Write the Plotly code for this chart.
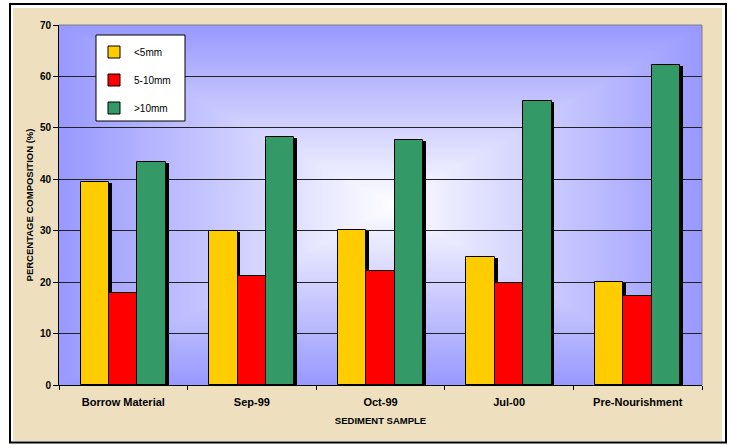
import base64
import struct
import zlib

import numpy as np
import plotly.graph_objects as go

# ---------------- data ----------------
categories = ["Borrow Material", "Sep-99", "Oct-99", "Jul-00", "Pre-Nourishment"]
small = [39.4, 30.0, 30.2, 24.8, 20.1]      # <5mm
medium = [17.8, 21.2, 22.1, 19.9, 17.3]     # 5-10mm
large = [43.4, 48.3, 47.6, 55.3, 62.3]      # >10mm
series_names = ["<5mm", "5-10mm", ">10mm"]
y_ticks = [0, 10, 20, 30, 40, 50, 60, 70]

# ---------------- layout constants ----------------
W, H = 732, 445
ML, MR, MT, MB = 59, 30, 25, 60
PW, PH = W - ML - MR, H - MT - MB

colors = ["#FFCC00", "#FF0000", "#339966"]
FONT = "Liberation Sans, Arial, sans-serif"


def px_to_paper_x(px):
    return (px - ML) / PW


def px_to_paper_y(py):
    return (H - MB - py) / PH


# ---------------- background gradient image (style only) ----------------
def make_png(arr):
    h, w, _ = arr.shape
    raw = b"".join(b"\x00" + arr[r].tobytes() for r in range(h))

    def chunk(t, d):
        return struct.pack(">I", len(d)) + t + d + struct.pack(">I", zlib.crc32(t + d) & 0xFFFFFFFF)

    return (b"\x89PNG\r\n\x1a\n"
            + chunk(b"IHDR", struct.pack(">IIBBBBB", w, h, 8, 2, 0, 0, 0))
            + chunk(b"IDAT", zlib.compress(raw, 9))
            + chunk(b"IEND", b""))


gw, gh = 214, 120
u = (np.arange(gw) + 0.5) / gw
v = (np.arange(gh) + 0.5) / gh
U, V = np.meshgrid(u, v)
cx, cy = 0.52, 0.50
dx = np.where(U < cx, (cx - U) / cx, (U - cx) / (1 - cx))
dy = np.where(V < cy, (cy - V) / cy, (V - cy) / (1 - cy))
t = np.clip(np.maximum(dx, dy), 0, 1)
edge = np.array([153, 153, 255], dtype=float)
white = np.array([255, 255, 255], dtype=float)
img = (white[None, None, :] * (1 - t[..., None]) + edge[None, None, :] * t[..., None])
img = np.clip(img, 0, 255).astype(np.uint8)
grad_uri = "data:image/png;base64," + base64.b64encode(make_png(img)).decode()

# ---------------- traces ----------------
fig = go.Figure()

bar_w = 0.221
offsets = [-0.332, -0.111, 0.110]
shadow_shift = 0.021
all_series = [small, medium, large]

# shadows first
for vals, off in zip(all_series, offsets):
    fig.add_trace(go.Bar(
        x=categories, y=[val - 0.2 for val in vals],
        offset=off + shadow_shift, width=bar_w,
        marker=dict(color="black", line=dict(width=0)),
        showlegend=False, hoverinfo="skip",
    ))

for i, (vals, off, name, col) in enumerate(zip(all_series, offsets, series_names, colors)):
    fig.add_trace(go.Bar(
        x=categories, y=vals, name=name, legendgroup=f"g{i}",
        offset=off, width=bar_w,
        marker=dict(color=col, line=dict(color="black", width=1)),
    ))

# ---------------- shapes ----------------
shapes = [
    # parchment background
    dict(type="rect", xref="paper", yref="paper", layer="below",
         x0=px_to_paper_x(13), x1=px_to_paper_x(722),
         y0=px_to_paper_y(8), y1=px_to_paper_y(441),
         fillcolor="#EEE0BF", line=dict(width=0)),
    # outer black frame
    dict(type="rect", xref="paper", yref="paper", layer="below",
         x0=px_to_paper_x(10), x1=px_to_paper_x(726),
         y0=px_to_paper_y(4), y1=px_to_paper_y(442.5),
         fillcolor="rgba(0,0,0,0)", line=dict(color="black", width=2)),
    # plot-area top / right border
    dict(type="line", xref="paper", yref="paper", layer="above",
         x0=0, x1=1, y0=1, y1=1, line=dict(color="#808080", width=1)),
    dict(type="line", xref="paper", yref="paper", layer="above",
         x0=1, x1=1, y0=0, y1=1, line=dict(color="#808080", width=1)),
    # legend box
    dict(type="rect", xref="paper", yref="paper", layer="above",
         x0=px_to_paper_x(96), x1=px_to_paper_x(185),
         y0=px_to_paper_y(121), y1=px_to_paper_y(35),
         fillcolor="white", line=dict(color="black", width=1)),
]

fig.update_layout(
    width=W, height=H,
    margin=dict(l=ML, r=MR, t=MT, b=MB, pad=0),
    paper_bgcolor="white",
    plot_bgcolor="#9999FF",
    barmode="overlay",
    bargap=0,
    font=dict(family=FONT, color="black"),
    shapes=shapes,
    images=[dict(source=grad_uri, xref="x", yref="y", x=-0.5, y=70,
                 sizex=5, sizey=70, xanchor="left", yanchor="top",
                 sizing="stretch", layer="below")],
    legend=dict(
        x=px_to_paper_x(94), y=px_to_paper_y(37.5), xanchor="left", yanchor="top",
        bgcolor="rgba(0,0,0,0)", borderwidth=0,
        font=dict(family=FONT, size=10, color="black"),
        tracegroupgap=9, traceorder="grouped",
        itemclick=False, itemdoubleclick=False,
    ),
    xaxis=dict(
        type="category", range=[-0.5, 4.5],
        showgrid=False, showline=True, linecolor="black", linewidth=1,
        ticks="outside", tickson="boundaries", ticklen=4, tickcolor="black",
        ticklabelstandoff=7,
        tickfont=dict(family=FONT, size=11, weight="bold"),
        title=dict(text="SEDIMENT SAMPLE", font=dict(family=FONT, size=9.5, weight="bold"), standoff=10),
        automargin=False,
    ),
    yaxis=dict(
        range=[0, 70], tickvals=y_ticks,
        showgrid=True, gridcolor="#222222", gridwidth=1,
        showline=True, linecolor="black", linewidth=1,
        ticks="outside", ticklen=5, tickcolor="black",
        tickfont=dict(family=FONT, size=10, weight="bold"),
        title=dict(text="PERCENTAGE COMPOSITION (%)", font=dict(family=FONT, size=9.5, weight="bold"), standoff=4),
        automargin=False, zeroline=False,
    ),
)

fig.write_html("out.html")
